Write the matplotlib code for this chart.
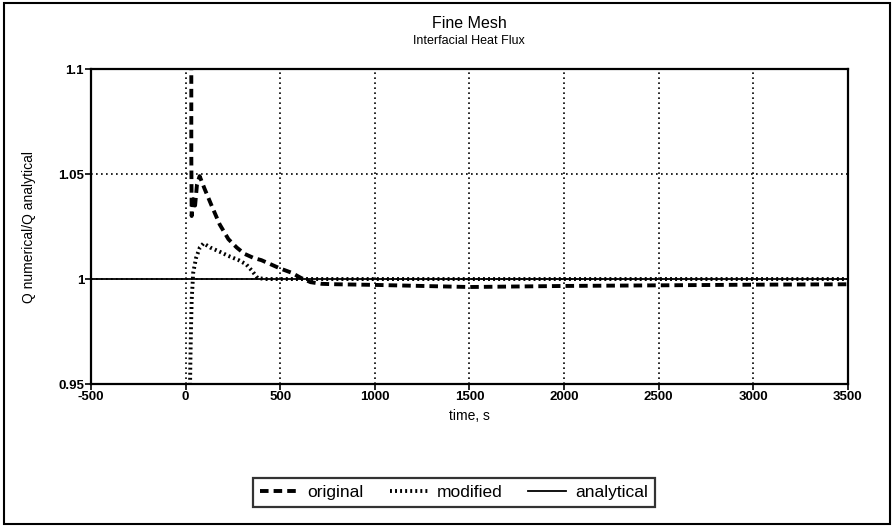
import matplotlib
matplotlib.use("Agg")
import matplotlib.pyplot as plt
from matplotlib.patches import Rectangle

plt.rcParams['font.family'] = ['Liberation Sans', 'DejaVu Sans']
plt.rcParams['axes.unicode_minus'] = False

# original (dashed) curve
orig_t = [30, 30, 32, 40, 50, 60, 74, 100, 137, 180, 226, 270, 311, 360, 400,
          450, 500, 560, 610, 660, 720, 800, 1000, 1200, 1500, 1800, 2000,
          2500, 3000, 3500]
orig_q = [1.11, 1.06, 1.030, 1.038, 1.035, 1.045, 1.049, 1.043, 1.035, 1.026,
          1.019, 1.015, 1.012, 1.010, 1.009, 1.007, 1.005, 1.003, 1.0005,
          0.9985, 0.9977, 0.9975, 0.9972, 0.9968, 0.9962, 0.9965, 0.9967,
          0.9970, 0.9973, 0.9975]

# modified (dotted) curve
mod_t = [22, 25, 28, 32, 40, 55, 75, 95, 130, 180, 226, 280, 320, 350, 380,
         420, 3500]
mod_q = [0.94, 0.96, 0.975, 0.99, 1.003, 1.010, 1.015, 1.017, 1.015, 1.013,
         1.011, 1.009, 1.007, 1.004, 1.0005, 1.0, 1.0]

# analytical
ana_t = [-500, 3500]
ana_q = [1.0, 1.0]

x_ticks = [-500, 0, 500, 1000, 1500, 2000, 2500, 3000, 3500]
y_ticks = [0.95, 1.0, 1.05, 1.1]
y_labels = ['0.95', '1', '1.05', '1.1']

fig = plt.figure(figsize=(8.94, 5.27), dpi=100)
ax = fig.add_axes([0.1018, 0.2713, 0.8467, 0.5977])

ax.plot(orig_t, orig_q, color='black', linestyle=(0, (2.2, 1.3)), linewidth=2.8,
        label='original')
ax.plot(mod_t, mod_q, color='black', linestyle=(0, (0.5, 0.8)), linewidth=2.8,
        label='modified')
ax.plot(ana_t, ana_q, color='black', linestyle='solid', linewidth=1.3,
        label='analytical')

ax.set_xlim(-500, 3500)
ax.set_ylim(0.95, 1.1)
ax.set_xticks(x_ticks)
ax.set_yticks(y_ticks)
ax.set_yticklabels(y_labels)
ax.grid(True, color='black', linestyle=(0, (1, 2)), linewidth=1.2)
for s in ax.spines.values():
    s.set_linewidth(1.6)
ax.tick_params(axis='both', labelsize=9.5, width=1.2, length=4, pad=1)
for lab in ax.get_xticklabels() + ax.get_yticklabels():
    lab.set_fontweight('bold')
ax.set_xlabel('time, s', fontsize=10, labelpad=4)
ax.set_ylabel('Q numerical/Q analytical', fontsize=10, labelpad=16)

fig.text(0.525, 0.955, 'Fine Mesh', ha='center', va='center', fontsize=11.5)
fig.text(0.525, 0.922, 'Interfacial Heat Flux', ha='center', va='center', fontsize=9)

leg = fig.legend(loc='center', bbox_to_anchor=(0.508, 0.066), ncol=3,
                 fontsize=12.5, frameon=True, fancybox=False, handlelength=2.2,
                 columnspacing=1.5, handletextpad=0.5, borderpad=0.4)
leg.get_frame().set_edgecolor('black')
leg.get_frame().set_linewidth(1.6)

fig.patches.append(Rectangle((0.004, 0.005), 0.992, 0.99, transform=fig.transFigure,
                             fill=False, edgecolor='black', linewidth=1.5))

fig.savefig('out.png', dpi=100)
